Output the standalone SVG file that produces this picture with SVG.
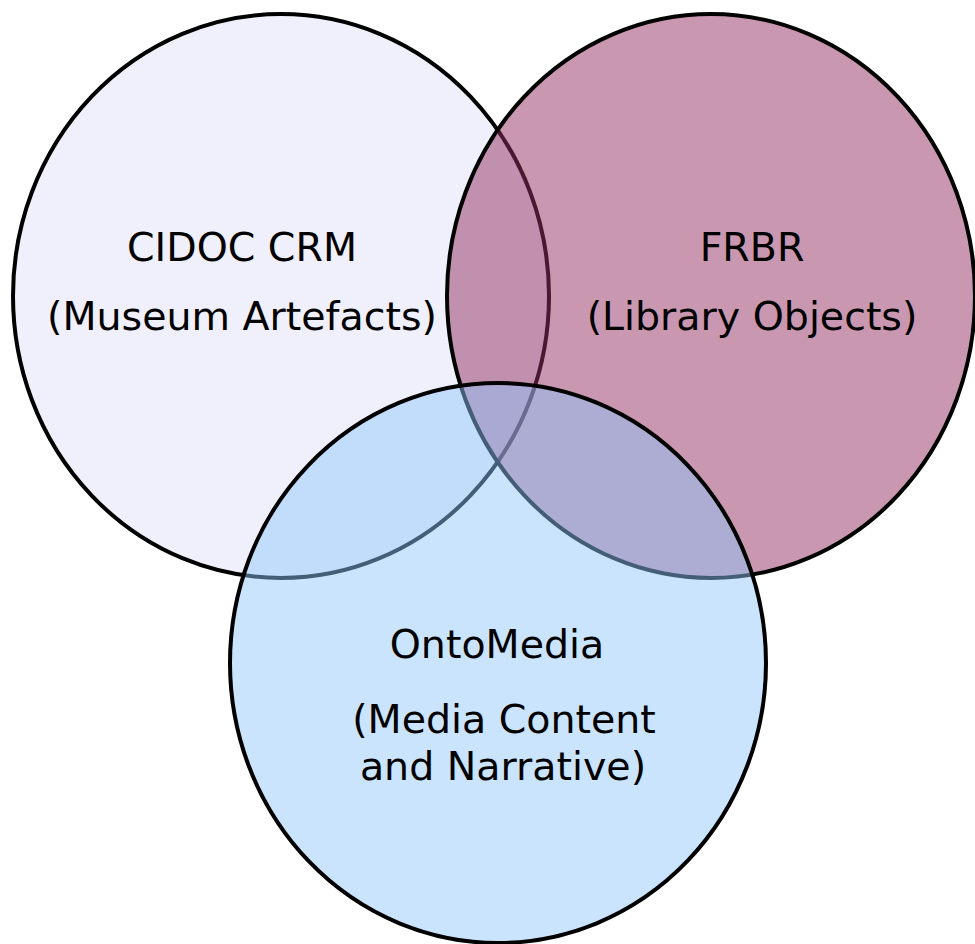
<svg xmlns="http://www.w3.org/2000/svg" width="975" height="944" viewBox="0 0 975 944">
  <style>
    .set { stroke: #000; stroke-width: 4; }
    .label { font-family: "DejaVu Sans", "Liberation Sans", sans-serif; font-size: 39.5px; fill: #000; text-anchor: middle; }
  </style>
  <rect width="975" height="944" fill="#fff"/>
  <g id="cidoc-crm">
    <ellipse class="set" cx="281" cy="296" rx="268" ry="282" fill="#f0f0fc"/>
    <text class="label" x="242" y="261">CIDOC CRM</text>
    <text class="label" x="242" y="330">(Museum Artefacts)</text>
  </g>
  <g id="frbr">
    <ellipse class="set" cx="711" cy="296" rx="264" ry="282" fill="#943061" fill-opacity="0.5"/>
    <text class="label" x="752" y="261">FRBR</text>
    <text class="label" x="752" y="330">(Library Objects)</text>
  </g>
  <g id="ontomedia">
    <ellipse class="set" cx="498" cy="663" rx="268" ry="280" fill="#8fc6fd" fill-opacity="0.475"/>
    <text class="label" x="497" y="658">OntoMedia</text>
    <text class="label" x="504" y="733">(Media Content</text>
    <text class="label" x="503" y="780">and Narrative)</text>
  </g>
</svg>
